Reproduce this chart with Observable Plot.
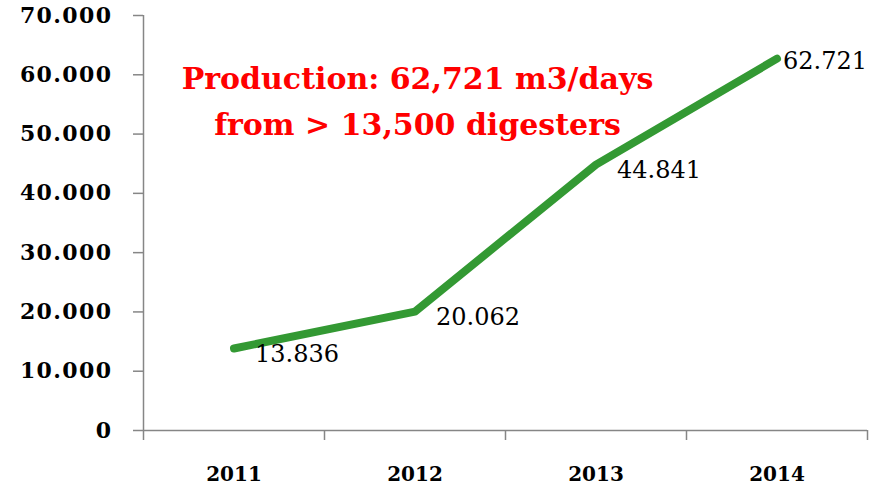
<!DOCTYPE html>
<html><head><meta charset="utf-8">
<script src="https://cdn.jsdelivr.net/npm/d3@7"></script>
<script src="https://cdn.jsdelivr.net/npm/@observablehq/plot@0.6"></script>
<style>
body{margin:0;background:#fff;overflow:hidden}
g[aria-label="y-axis tick label"] text{letter-spacing:1.4px}
</style>
</head><body><div id="chart"></div>
<script>
const years = [2011, 2012, 2013, 2014];
const production = [13836, 20062, 44841, 62721];
const yTicks = [0, 10000, 20000, 30000, 40000, 50000, 60000, 70000];
const annotationLines = ["Production: 62,721 m3/days", "from > 13,500 digesters"];

const data = years.map((year, i) => ({year, value: production[i]}));
const fmt = v => v === 0 ? "0" : d3.format(",")(v).replace(/,/g, ".");
const boundaries = [...years.map(y => y - 0.5), years[years.length - 1] + 0.5];
const axisColor = "#868686";
const serif = "DejaVu Serif";

const chart = Plot.plot({
  width: 873, height: 488,
  marginLeft: 143, marginRight: 6, marginTop: 15, marginBottom: 58,
  style: {fontFamily: serif, background: "#fff"},
  x: {domain: [boundaries[0], boundaries[boundaries.length - 1]]},
  y: {domain: [0, 70000]},
  marks: [
    Plot.axisY({ticks: yTicks, tickFormat: fmt, tickSize: 10, tickPadding: 21, stroke: axisColor, strokeWidth: 1.5,
      fill: "#000", fontSize: 22, fontWeight: "bold", label: null}),
    Plot.axisX({ticks: boundaries, tickFormat: () => "", tickSize: 10, stroke: axisColor, strokeWidth: 1.5, label: null}),
    Plot.axisX({ticks: years, tickFormat: d => String(d), tickSize: 0, tickPadding: 36, fill: "#000",
      fontSize: 20, fontWeight: "bold", label: null}),
    Plot.ruleX([boundaries[0]], {stroke: axisColor, strokeWidth: 1.5}),
    Plot.ruleY([0], {stroke: axisColor, strokeWidth: 1.5}),
    Plot.line(data, {x: "year", y: "value", stroke: "#339933", strokeWidth: 8, strokeLinecap: "round", strokeLinejoin: "round"}),
    Plot.text(data, {filter: d => d.year !== years[years.length - 1], x: "year", y: "value", text: d => fmt(d.value),
      textAnchor: "start", dx: 21, dy: 6, fontSize: 24, fill: "#000"}),
    Plot.text(data, {filter: d => d.year === years[years.length - 1], x: "year", y: "value", text: d => fmt(d.value),
      textAnchor: "start", dx: 6, dy: 3, fontSize: 24, fill: "#000"}),
    Plot.text([annotationLines.join("\n")], {frameAnchor: "top", dx: -88, dy: 82, lineAnchor: "middle", lineHeight: 1.53,
      fill: "#ff0000", fontSize: 30, fontWeight: "bold", text: d => d})
  ]
});
document.getElementById("chart").appendChild(chart);
</script>
</body></html>
